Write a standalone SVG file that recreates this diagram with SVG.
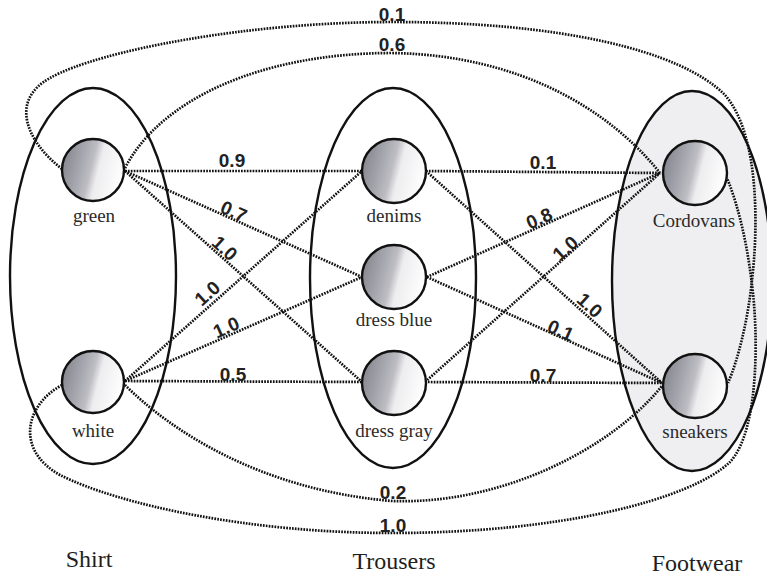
<svg xmlns="http://www.w3.org/2000/svg" width="767" height="577" viewBox="0 0 767 577">
<defs>
<linearGradient id="ball" x1="0" y1="0.3" x2="1" y2="0.55">
<stop offset="0" stop-color="#85858e"/>
<stop offset="0.3" stop-color="#a6a6ae"/>
<stop offset="0.48" stop-color="#bdbdc3"/>
<stop offset="0.6" stop-color="#ededef"/>
<stop offset="1" stop-color="#ffffff"/>
</linearGradient>
</defs>
<style>
.set{stroke:#111;stroke-width:2.4;fill:none}
.setf{fill:#efeff2}
.node{stroke:#111;stroke-width:2.4;fill:url(#ball)}
.lbl{font-family:"Liberation Serif","Times New Roman",serif;font-size:19px;fill:#2a2a2a;text-anchor:middle}
.title{font-family:"Liberation Serif","Times New Roman",serif;font-size:24px;fill:#1e1e1e;text-anchor:middle}
.w{font-family:"Liberation Sans",Arial,sans-serif;font-weight:bold;font-size:19px;fill:#222;text-anchor:middle}
.e{fill:none;stroke:#111;stroke-width:2.7;stroke-dasharray:1.7 1.2}
</style>
<rect width="767" height="577" fill="#ffffff"/>

<g id="set-shirt"><ellipse class="set" cx="93" cy="276" rx="83" ry="188"/></g>
<g id="set-trousers"><ellipse class="set" cx="393" cy="278" rx="83" ry="190"/></g>
<g id="set-footwear"><ellipse class="set setf" cx="692" cy="281" rx="80" ry="190"/></g>

<g id="connectors">
<path class="e" d="M125,171 L362,171"/>
<path class="e" d="M125,171 L362,277"/>
<path class="e" d="M125,171 L362,382"/>
<path class="e" d="M125,381 L362,171"/>
<path class="e" d="M125,381 L362,277"/>
<path class="e" d="M125,381 L362,382"/>
<path class="e" d="M426,171 L660,173"/>
<path class="e" d="M426,171 L662,383"/>
<path class="e" d="M427,277 L660,173"/>
<path class="e" d="M427,277 L662,383"/>
<path class="e" d="M425,382 L660,173"/>
<path class="e" d="M425,382 L662,383"/>
<path class="e" d="M125,168 C160,100 260,53 392,53 C520,55 610,110 660,173"/>
<path class="e" d="M62,169 C25,140 10,100 50,78 C100,50 250,22 392,22 C560,22 680,50 725,95 C760,135 758,230 752,280 C748,320 738,360 728,383"/>
<path class="e" d="M125,385 C170,430 260,490 392,501 C500,505 610,450 662,386"/>
<path class="e" d="M62,385 C25,405 15,450 60,475 C120,505 250,533 392,533 C560,533 690,500 730,462 C760,430 758,330 752,285 C748,250 740,210 727,178"/>
<text class="w" x="392" y="21">0.1</text>
<text class="w" x="392" y="51">0.6</text>
<text class="w" x="232" y="167">0.9</text>
<text class="w" x="234" y="218" transform="rotate(24 234 211)">0.7</text>
<text class="w" x="225" y="255" transform="rotate(42 225 248)">1.0</text>
<text class="w" x="207" y="300" transform="rotate(-42 207 293)">1.0</text>
<text class="w" x="226" y="334" transform="rotate(-24 226 327)">1.0</text>
<text class="w" x="233" y="381">0.5</text>
<text class="w" x="543" y="169">0.1</text>
<text class="w" x="539" y="225" transform="rotate(-24 539 218)">0.8</text>
<text class="w" x="565" y="255" transform="rotate(-42 565 248)">1.0</text>
<text class="w" x="590" y="312" transform="rotate(42 590 305)">1.0</text>
<text class="w" x="561" y="337" transform="rotate(24 561 330)">0.1</text>
<text class="w" x="543" y="382">0.7</text>
<text class="w" x="393" y="499">0.2</text>
<text class="w" x="393" y="532">1.0</text>
</g>

<g id="node-green"><circle class="node" cx="93" cy="170" r="31"/><text class="lbl" x="94" y="222">green</text></g>
<g id="node-white"><circle class="node" cx="93" cy="382" r="31"/><text class="lbl" x="93" y="437">white</text></g>
<g id="node-denims"><circle class="node" cx="394" cy="171" r="32"/><text class="lbl" x="394" y="222">denims</text></g>
<g id="node-dress-blue"><circle class="node" cx="394" cy="277" r="32"/><text class="lbl" x="394" y="326">dress blue</text></g>
<g id="node-dress-gray"><circle class="node" cx="394" cy="383" r="32"/><text class="lbl" x="394" y="437">dress gray</text></g>
<g id="node-cordovans"><circle class="node" cx="695" cy="173" r="32"/><text class="lbl" x="694" y="227">Cordovans</text></g>
<g id="node-sneakers"><circle class="node" cx="695" cy="386" r="32"/><text class="lbl" x="695" y="438">sneakers</text></g>

<g id="titles">
<text class="title" x="89" y="567">Shirt</text>
<text class="title" x="394" y="569">Trousers</text>
<text class="title" x="697" y="571">Footwear</text>
</g>
</svg>
